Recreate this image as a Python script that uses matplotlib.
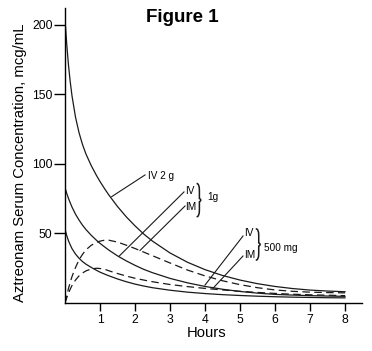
import matplotlib
matplotlib.use("Agg")
import matplotlib.pyplot as plt
from matplotlib.path import Path
from matplotlib.patches import PathPatch

plt.rcParams['font.family'] = ['Liberation Sans', 'DejaVu Sans']

# Data (hours, mcg/mL)
hours = [0, 0.05, 0.1, 0.15, 0.2, 0.3, 0.4, 0.5, 0.6, 0.75, 0.9, 1.0, 1.15, 1.25,
         1.5, 1.75, 2.0, 2.25, 2.5, 3.0, 3.5, 4.0, 4.5, 5.0, 5.5, 6.0, 6.5, 7.0, 7.5, 8.0]
iv_2g = [204, 186, 171, 159, 149, 133.7, 122.6, 114, 107.1, 98.8, 91.7, 87.4, 81.5, 77.8,
         69.4, 62.0, 55.5, 49.6, 44.5, 36.0, 29.3, 24.0, 19.8, 16.5, 13.9, 11.9, 10.4, 9.3, 8.6, 8.1]
iv_1g = [83, 78.8, 75.2, 72.0, 69.0, 63.9, 59.7, 56.0, 52.8, 48.7, 45.1, 42.9, 40.0, 38.1,
         33.9, 30.3, 27.1, 24.2, 21.8, 17.7, 14.5, 11.9, 9.9, 8.3, 7.1, 6.2, 5.7, 5.3, 5.0, 4.8]
im_1g = [0, 5.5, 10.5, 15, 19, 25.5, 31, 35, 38.3, 41.5, 43.6, 44.5, 45.3, 45.2,
         43.8, 41.6, 39.2, 36.6, 34.0, 28.8, 23.7, 19.5, 16.0, 13.2, 11.0, 9.4, 8.4, 7.8, 7.5, 7.3]
iv_500 = [53, 48.5, 44.7, 41.8, 39.1, 35.2, 32.2, 29.8, 27.9, 25.6, 23.5, 22.2, 20.6, 19.6,
          17.3, 15.3, 13.6, 12.2, 11.0, 9.2, 7.8, 6.8, 6.0, 5.4, 4.9, 4.5, 4.2, 4.0, 3.8, 3.7]
im_500 = [0, 3.8, 7, 10, 12.6, 16.5, 19.5, 21.6, 23.1, 24.5, 25.0, 24.8, 24.1, 23.2,
          21.2, 19.4, 17.8, 16.5, 15.3, 13.3, 11.8, 10.5, 9.4, 8.4, 7.6, 6.9, 6.3, 5.9, 5.6, 5.3]

xticks = [1, 2, 3, 4, 5, 6, 7, 8]
yticks = [50, 100, 150, 200]

fig = plt.figure(figsize=(3.72, 3.51), dpi=100)
ax = fig.add_axes([65/372, 48/351, 297.5/372, 295/351])
ax.set_xlim(0, 8.5)
ax.set_ylim(0, 212.2)

ink = '#1a1a1a'
lw = 0.9
ax.plot(hours, iv_2g, color=ink, lw=lw)
ax.plot(hours, iv_1g, color=ink, lw=lw)
ax.plot(hours, iv_500, color=ink, lw=lw)
ax.plot(hours, im_1g, color=ink, lw=lw, linestyle=(0, (6, 3.5)))
ax.plot(hours, im_500, color=ink, lw=lw, linestyle=(0, (6, 3.5)))

for s in ['top', 'right']:
    ax.spines[s].set_visible(False)
for s in ['left', 'bottom']:
    ax.spines[s].set_linewidth(1.0)

ax.set_xticks(xticks)
ax.set_yticks(yticks)
ax.tick_params(axis='y', direction='out', length=8, width=1.0, pad=1, labelsize=8.8)
ax.tick_params(axis='x', direction='out', length=6, width=1.0, pad=2, labelsize=8.8)

fig.text(20/372, 1 - 163/351, 'Aztreonam Serum Concentration, mcg/mL',
         rotation=90, ha='center', va='center', fontsize=10.7)
fig.text(207/372, 1 - 333/351, 'Hours', ha='center', va='center', fontsize=10.7)
fig.text(182/372, 1 - 18/351, 'Figure 1', ha='center', va='center',
         fontsize=13.5, fontweight='bold')

fs = 7.2
line_kw = dict(color=ink, lw=0.8)
# IV 2 g
ax.plot([1.334, 2.286], [76.5, 92.1], **line_kw)
ax.text(2.37, 91.4, 'IV 2 g', fontsize=fs, ha='left', va='center')
# 1 g
ax.plot([1.551, 3.40], [33.8, 79.9], **line_kw)
ax.plot([2.143, 3.43], [37.8, 69.8], **line_kw)
ax.text(3.57, 80.6, 'IV', fontsize=fs, ha='center', va='center')
ax.text(3.60, 68.7, 'IM', fontsize=fs, ha='center', va='center')
ax.text(4.06, 76.5, '1g', fontsize=fs, ha='left', va='center')
# 500 mg
ax.plot([4.0, 5.086], [12.9, 48.2], **line_kw)
ax.plot([4.229, 5.086], [10.6, 33.8], **line_kw)
ax.text(5.257, 50.4, 'IV', fontsize=fs, ha='center', va='center')
ax.text(5.27, 34.5, 'IM', fontsize=fs, ha='center', va='center')
ax.text(5.686, 39.6, '500 mg', fontsize=fs, ha='left', va='center')


def brace(x0, x1, y0, y1):
    xm = (x0 + x1) / 2
    ym = (y0 + y1) / 2
    verts = [(x0, y1), (xm, y1), (xm, ym + (y1 - ym) * 0.6),
             (xm, ym + (y1 - ym) * 0.1), (x1, ym),
             (xm, ym - (y1 - ym) * 0.1), (xm, ym - (y1 - ym) * 0.6),
             (xm, y0), (x0, y0)]
    codes = [Path.MOVETO, Path.CURVE3, Path.CURVE3, Path.LINETO,
             Path.CURVE3, Path.CURVE3, Path.LINETO, Path.CURVE3, Path.CURVE3]
    ax.add_patch(PathPatch(Path(verts, codes), fill=False, lw=1.1, color=ink))


brace(3.76, 3.92, 62, 86)
brace(5.45, 5.62, 30.8, 53.4)

fig.savefig('out.png', dpi=100)
